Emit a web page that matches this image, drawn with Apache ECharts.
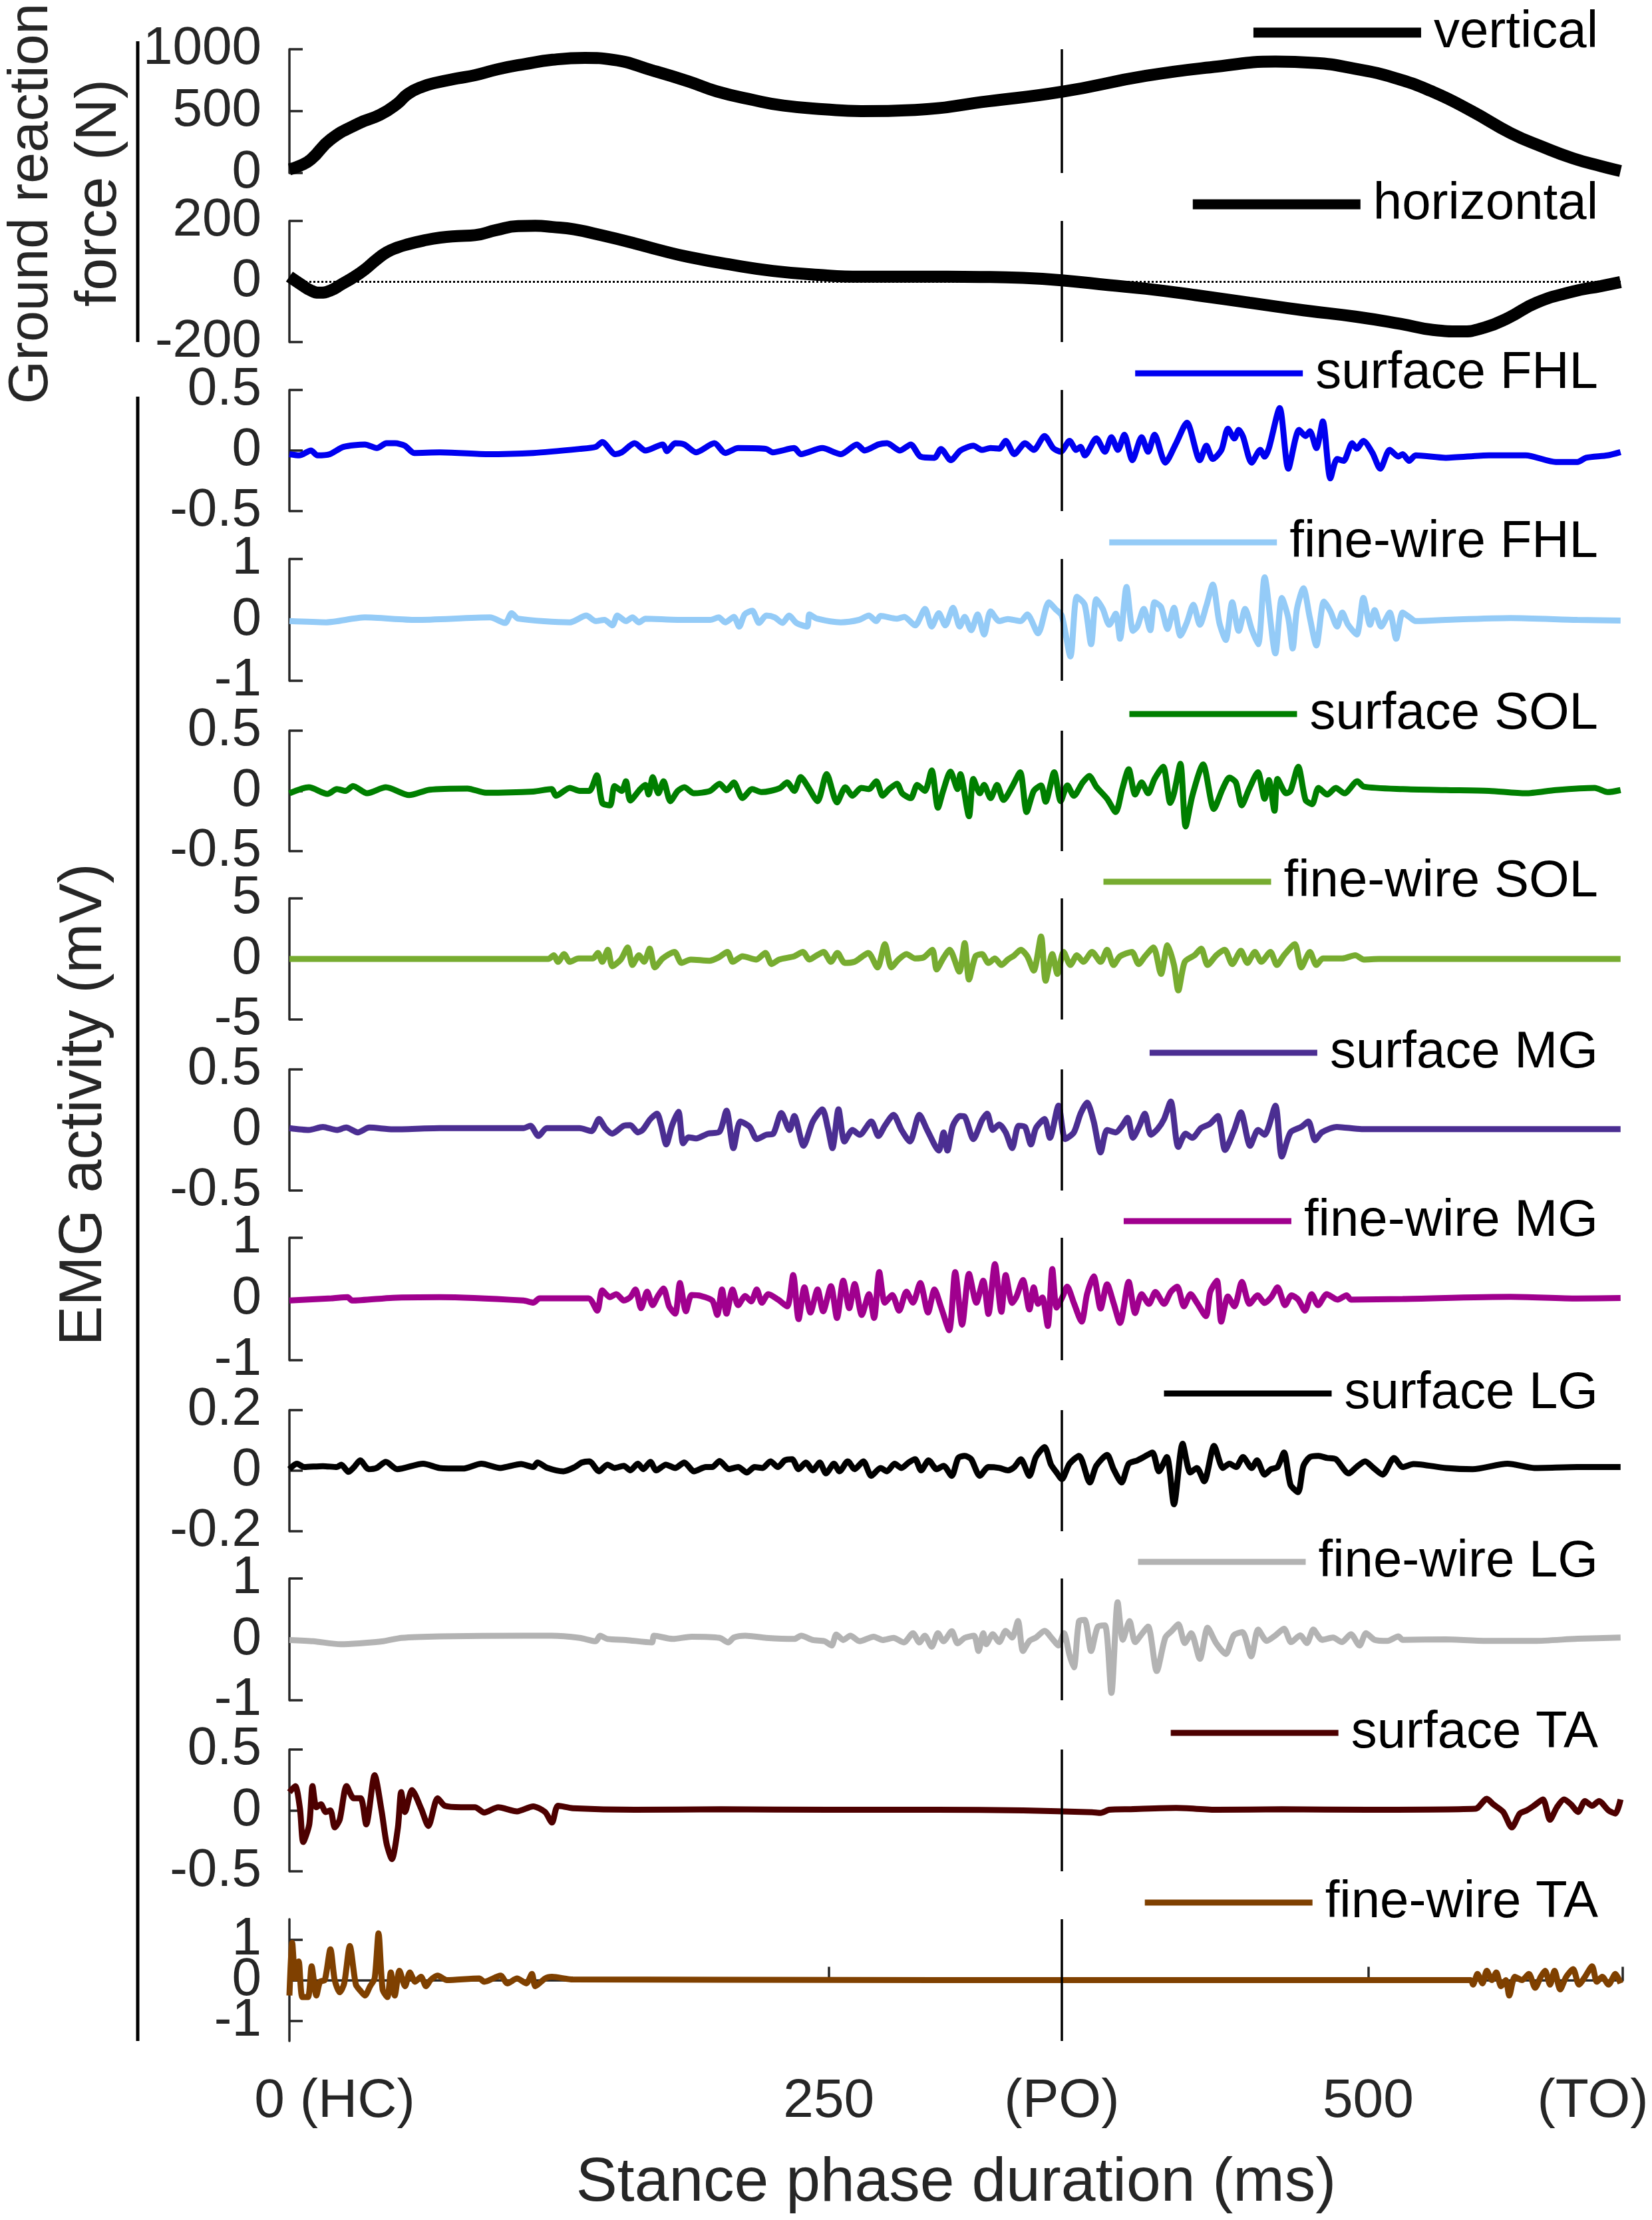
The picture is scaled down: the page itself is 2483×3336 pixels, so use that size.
<!DOCTYPE html>
<html>
<head>
<meta charset="utf-8">
<script src="https://cdn.jsdelivr.net/npm/echarts@6/dist/echarts.min.js"></script>
<style>
html, body { margin: 0; padding: 0; background: #fff; }
#chart { width: 2483px; height: 3336px; }
</style>
</head>
<body>
<div id="chart"></div>
<script>
// x axis: stance phase, ms
var xTickValues = [0, 250, 358, 500, 618];
var xTickLabels = ['0 (HC)', '250', '(PO)', '500', '(TO)'];
var pushOff = 358;

// ground reaction force (N), [ms, value]
var grfVertical = [[0,30],[5,60],[10,110],[19,270],[32,400],[42,470],[50,560],[55,640],[62,700],[68,730],[78,765],[86,790],[97,840],[109,880],[122,915],[137,930],[150,915],[168,830],[185,740],[198,660],[215,590],[229,545],[248,515],[265,500],[290,510],[324,580],[358,656],[397,785],[430,860],[457,900],[475,890],[494,842],[512,770],[530,656],[548,500],[566,323],[581,210],[595,118],[608,55],[617,16]];
var grfHorizontal = [[0,16],[5,-8],[10,-30],[14,-37],[19,-30],[24,-10],[30,15],[35,40],[40,70],[45,96],[50,112],[55,123],[62,135],[70,145],[78,150],[86,153],[96,170],[106,183],[114,184],[122,180],[132,172],[145,152],[160,126],[172,103],[185,81],[205,55],[224,35],[245,22],[265,16],[290,16],[320,15],[340,12],[358,4],[380,-12],[397,-24],[420,-45],[445,-70],[470,-95],[494,-116],[515,-140],[530,-160],[543,-165],[554,-152],[565,-120],[578,-70],[595,-33],[608,-15],[617,-2]];

// EMG activity (mV), [ms, value]
var surfaceFHL = [[0,-0.03],[4.6,-0.04],[10,0],[13,-0.04],[18.7,-0.03],[25,0.03],[35,0.05],[40.5,0.02],[45,0.06],[49,0.06],[53.5,0.04],[57.8,-0.02],[69.7,-0.015],[91,-0.03],[113,-0.02],[134.5,0.013],[142,0.03],[145,0.07],[151,-0.03],[154,-0.015],[160,0.06],[165,0],[173,0.05],[175,-0.005],[178.8,0.06],[183,0.05],[188.5,-0.015],[197,0.06],[202,-0.02],[208,0.02],[221,0.013],[224,-0.015],[234,0.02],[237,-0.03],[247,0.02],[255.6,-0.03],[263,0.05],[266.6,0],[273,0.05],[277,0.06],[283,0],[288,0.05],[292.5,-0.05],[299,-0.06],[302,0.013],[306.6,-0.08],[311,0],[317,0.04],[321,0.005],[325,0.02],[329,0.015],[332,0.08],[336,-0.03],[341,0.06],[345,0.005],[350,0.12],[354,0.02],[357.5,-0.01],[361.6,0.08],[364.7,0.005],[366.7,0.03],[368.7,-0.04],[374,0.1],[378,-0.01],[381,0.11],[384,0.005],[387,0.13],[390.7,-0.08],[395,0.11],[398,-0.01],[401,0.13],[406,-0.1],[411,0.06],[416,0.23],[422,-0.08],[425,0.04],[428,-0.07],[432,0.005],[435,0.18],[438,0.1],[440,0.17],[442,0.115],[446,-0.1],[450,0.005],[452,-0.05],[454,0.02],[459,0.35],[463,-0.15],[468,0.17],[471,0.12],[473,0.16],[476,0.02],[479,0.24],[482.5,-0.23],[485.6,-0.07],[488.6,-0.085],[492.6,0.06],[494.7,0.015],[497.8,0.08],[502,-0.02],[505.6,-0.15],[510,0.005],[514,-0.05],[516,-0.03],[519,-0.085],[522,-0.04],[536,-0.06],[556,-0.04],[573,-0.04],[587,-0.095],[597,-0.095],[601,-0.06],[611,-0.04],[617,-0.013]];
var fineWireFHL = [[0,-0.02],[17,-0.04],[35,0.04],[58.6,0],[93,0.04],[100,-0.05],[103,0.11],[106,0.02],[130,-0.04],[137.6,0.07],[142,-0.02],[146,0],[149.7,-0.09],[152,0.07],[156,-0.02],[159,0.04],[162,-0.04],[165,0.02],[180,0],[195,0],[199,0.04],[202,-0.04],[206,0.05],[208.5,-0.11],[211,0.09],[214.5,0.15],[217.7,-0.05],[221,0.07],[225,0.04],[228.5,-0.05],[231.6,0.07],[235,-0.05],[240,-0.11],[241,0.09],[244.6,0.02],[255.6,-0.04],[264,0],[268.6,0.07],[272,-0.02],[274,0.065],[281.6,0.02],[285,0.05],[290,-0.09],[294.6,0.18],[297.7,-0.11],[301,0.11],[304,-0.09],[307.6,0.2],[310.7,-0.11],[313,0.05],[316,-0.17],[319,0.09],[322,-0.24],[325,0.14],[329,-0.02],[333,0.015],[339,-0.02],[342,0.09],[347,-0.22],[352,0.29],[355,0.18],[358,0.07],[362,-0.6],[365,0.38],[368.6,0.25],[371.6,-0.4],[374,0.34],[377,0.18],[380,-0.08],[383,0.1],[385,-0.31],[388,0.54],[391,-0.18],[393,-0.11],[396,0.18],[399,-0.17],[401,0.29],[404,0.21],[407,-0.15],[410,0.2],[413,-0.26],[416,-0.04],[419,0.25],[422,-0.08],[425,0.23],[428,0.58],[431,-0.04],[434,-0.33],[437,0.29],[440,-0.18],[443,0.18],[446,-0.15],[449,-0.4],[452,0.7],[457,-0.55],[460,0.36],[463,0.03],[465,-0.47],[467,0.18],[470,0.52],[473,0.03],[476,-0.42],[479.5,0.3],[482.5,0.14],[485.6,-0.11],[488,0.12],[490.7,-0.08],[494.7,-0.24],[497.8,0.36],[500.9,-0.08],[503,0.16],[506,-0.11],[510,0.12],[513,-0.31],[516,0.12],[519,0.05],[522,-0.02],[536,0],[566,0.03],[597,0],[617,-0.01]];
var surfaceSOL = [[0,-0.02],[9,0.03],[17.6,-0.025],[22,0.015],[26,0],[29.5,0.04],[36,-0.02],[44.7,0.03],[55.5,-0.035],[65,0.01],[82.5,0.02],[91,-0.015],[113,-0.005],[121.5,0.015],[123.6,-0.04],[130,0.025],[134.5,0],[139,0],[142.5,0.13],[145,-0.1],[148.6,-0.12],[150.7,0.04],[154,0],[156,0.08],[158,-0.08],[162.6,0.015],[165,0.05],[166.5,-0.03],[168.4,0.115],[171,-0.02],[173.4,0.08],[176.6,-0.085],[180,0],[183,0.03],[187.5,-0.02],[195,0],[199.4,0.06],[202.6,0.005],[206,0.07],[210,-0.06],[214.5,0.015],[218.8,-0.01],[223,0],[227.5,0.025],[230.7,0.07],[234,0],[237,0.115],[240.5,0.03],[244.8,-0.085],[249,0.14],[253.8,-0.095],[257.7,0.03],[261,-0.04],[265,0.025],[268.6,0.015],[272,0.08],[275,-0.04],[278,0.015],[281.6,0.06],[284,-0.02],[288,-0.06],[291,0.05],[294.5,0],[297.7,0.17],[300.6,-0.14],[303,0],[306.4,0.16],[309.7,0.015],[311,0.14],[315,-0.21],[317,0.1],[320,-0.02],[322,0.05],[325,-0.06],[328,0.05],[331,-0.075],[335,0.035],[338.7,0.155],[341.7,-0.175],[345,0],[348.4,0.045],[350.5,-0.09],[354.5,0.155],[357.5,-0.085],[360.6,0.045],[363.6,-0.04],[367.7,0.07],[370.7,0.125],[374,0.035],[379,-0.065],[383,-0.175],[386,0.015],[389,0.18],[392,-0.03],[395,0.07],[398,-0.02],[401,0.1],[405,0.2],[408.3,-0.1],[410,-0.02],[413,0.225],[415.4,-0.295],[418.5,-0.04],[423.5,0.22],[428.5,-0.15],[432.5,0.015],[435.7,0.11],[438.7,0.07],[441.4,-0.12],[444.8,0.015],[448.9,0.155],[452,-0.065],[454,0.09],[456.6,-0.165],[458,0.1],[462,-0.02],[464,0],[467.6,0.2],[471,-0.075],[474,-0.11],[477,0.025],[481,-0.03],[485,0.025],[489,-0.02],[495,0.08],[498,0.035],[516,0.015],[536,0.007],[556,0],[573,-0.02],[587,0.007],[605,0.025],[611,-0.01],[617,0.007]];
var fineWireSOL = [[0,0],[120,0],[122.5,0.3],[124.5,-0.24],[127.3,0.4],[130,-0.24],[134,0.04],[140.7,0.04],[143,0.5],[145,-0.24],[147.6,0.76],[149.7,-0.6],[153.6,-0.05],[156.8,0.95],[159,-0.5],[162,0.3],[164.4,-0.24],[167,0.85],[169.4,-0.7],[173,0.04],[178.5,0.58],[181.7,-0.33],[186,-0.05],[194.7,-0.15],[199,0.13],[203,0.58],[205.5,-0.24],[210,0.22],[216.4,-0.05],[220.6,0.5],[223.5,-0.42],[227,-0.05],[234,0.22],[238,0.58],[241,-0.05],[244.5,0.3],[247.6,0.58],[251,-0.24],[254,0.5],[257.4,-0.33],[261.8,-0.24],[265,0.13],[268.3,0.5],[272.6,-0.7],[276,1.22],[279,-0.7],[282.3,-0.05],[286,0.4],[290,0.04],[294,0.13],[298,0.76],[300,-0.87],[303,0.04],[306,0.76],[310.5,-1.05],[313,1.3],[315,-1.7],[318,0.22],[321,0.4],[324,-0.33],[327,0.04],[330,-0.5],[333,-0.05],[336,0.3],[339,0.76],[342,0.22],[345,-0.96],[348.4,1.85],[350.5,-1.8],[353.6,0.4],[356,-1.24],[358.8,0.58],[362,-0.5],[365,0.3],[368,-0.24],[372,0.58],[376,-0.24],[379,0.76],[382,-0.5],[385,0.22],[390.5,0.58],[393.6,-0.42],[396.6,0.22],[400.5,0.95],[404,-1.24],[407,1.13],[410,-0.5],[412,-2.6],[415,-0.24],[419.5,0.3],[422.6,0.85],[425.6,-0.5],[429.6,0.3],[433.5,0.76],[437,-0.42],[441,0.67],[444,-0.33],[447.5,0.58],[450.5,-0.24],[454.7,0.58],[457.7,-0.5],[461,0.3],[466,1.22],[469,-0.7],[473,0.58],[476,-0.5],[479,0.04],[488,0.04],[494,0.3],[498,-0.05],[505,0],[617,0]];
var surfaceMG = [[0,0.015],[9,0],[15.5,0.025],[22,0],[26.3,0.02],[31.7,-0.02],[37,0.02],[48,0.005],[69.6,0.015],[108.5,0.015],[111.7,0.035],[115.4,-0.05],[119.3,0.015],[134.5,0.015],[140,-0.01],[143.5,0.09],[146.4,0.015],[149.6,-0.03],[155,0.035],[158,0.04],[161.5,-0.02],[163.7,0],[167.3,0.09],[170.4,0.135],[172.3,0.04],[174.7,-0.12],[177.3,0.035],[180.3,0.15],[182.5,-0.11],[185,-0.06],[188.5,-0.07],[194,-0.03],[199.4,-0.013],[202.6,0.16],[205.8,-0.15],[209,0.07],[213.4,0.025],[216.6,-0.075],[221,-0.04],[224.3,-0.03],[228,0.14],[231.8,0],[234,0.115],[238.3,-0.13],[242.6,0.07],[247,0.17],[249.6,0.015],[251.7,-0.15],[254.5,0.17],[257.3,-0.095],[261,0],[264.3,-0.04],[269.7,0.07],[273,-0.05],[276,0.035],[280,0.125],[283.7,0],[287.6,-0.095],[292,0.125],[295.6,0],[301,-0.17],[303.2,-0.02],[305,-0.17],[307.5,0.035],[310.8,0.115],[313,0.11],[317,-0.075],[321,0.08],[323.4,0.135],[326,0],[329,0.045],[332,-0.02],[335,-0.15],[338,0.035],[341,0.025],[343.7,-0.12],[346,0.015],[350,0.09],[352.5,-0.065],[356.5,0.2],[359.6,-0.075],[363.6,-0.02],[366.7,0.135],[369.7,0.225],[372.8,0.07],[376,-0.185],[379,0],[383,-0.02],[386,0.035],[388.5,0.1],[391,-0.065],[394,0.035],[396.5,0.135],[399.3,-0.04],[402.4,0.007],[405.4,0.09],[408.5,0.235],[412,-0.14],[415.4,-0.03],[418.5,-0.065],[422.5,0.015],[426.6,0.05],[430.3,0.115],[433.7,-0.165],[437.7,-0.01],[441,0.145],[445.3,-0.13],[449,0],[452,-0.04],[457,0.2],[460,-0.22],[464,-0.02],[469,0.025],[472.3,0.07],[475.4,-0.085],[478.5,-0.02],[485.5,0.025],[497,0.007],[617,0.007]];
var fineWireMG = [[0,-0.025],[19.5,0.01],[27,0.03],[29,-0.025],[48,0.02],[69.6,0.03],[108.5,-0.025],[113,-0.06],[116,0.01],[138.6,0.01],[142.7,-0.19],[145,0.14],[148.5,0.03],[151.5,0.08],[155,-0.025],[158,0.03],[160.4,0.155],[163,-0.15],[165.8,0.12],[168.4,-0.1],[170.8,0.05],[173.4,0.17],[176,-0.12],[178.8,-0.24],[181,0.26],[183.8,-0.2],[186.4,0.065],[190.7,0.05],[196,-0.025],[198.3,-0.26],[200.5,0.155],[202.6,-0.24],[205.4,0.155],[208,-0.1],[211.3,0.05],[214,-0.04],[216.6,0.155],[219,-0.06],[222,0.08],[226.4,-0.007],[230.7,-0.12],[233.5,0.39],[236,-0.33],[238.7,0.19],[241.5,-0.22],[244.8,0.155],[247.4,-0.2],[251,0.21],[253.8,-0.31],[256.7,0.3],[259.5,-0.15],[262,0.245],[265.3,-0.26],[268.6,0.08],[271,-0.31],[273.4,0.44],[276,-0.06],[279.4,0.065],[282.6,-0.19],[286,0.12],[289,-0.06],[292.4,0.26],[296,-0.22],[299,0.155],[302,-0.13],[305.8,-0.51],[308.6,0.44],[311.8,-0.42],[315,0.41],[318.4,-0.06],[321.6,0.3],[324,-0.245],[327,0.57],[330,-0.21],[332,0.39],[335,-0.065],[337,0.04],[340,0.31],[343,-0.17],[345,0.19],[347,-0.08],[349,0.025],[351.5,-0.44],[353.6,0.49],[355.6,-0.14],[358.4,0.04],[360.5,0.2],[363.6,-0.065],[367.2,-0.37],[369.7,0.08],[372.8,0.37],[376,-0.155],[379,0.24],[382,-0.065],[385,-0.39],[389,0.28],[392,-0.23],[395,0.08],[398.4,-0.08],[401.4,0.115],[405.4,-0.08],[408.5,0.115],[411.5,0.2],[414.6,-0.12],[417.7,0.08],[420.7,-0.065],[424.8,-0.28],[426.8,0.115],[429.9,0.3],[431.9,-0.37],[435,0.04],[438,-0.12],[441.5,0.28],[445,-0.08],[448.8,0.06],[452,-0.065],[455,0.025],[458,0.19],[461.5,-0.1],[464.5,0.06],[467.6,-0.01],[470.7,-0.19],[473.8,0.08],[476.8,-0.1],[480.8,0.08],[485.8,-0.01],[490,0.06],[492,-0.01],[516,0],[566,0.035],[597,0.007],[617,0.015]];
var surfaceLG = [[0,0.005],[3.5,0.023],[6.8,0.012],[15.5,0.015],[22,0.012],[24,0.02],[27.4,-0.004],[30,0.012],[32.8,0.034],[36.7,0.005],[40.4,0.009],[44.7,0.029],[50,0.005],[62,0.023],[69.6,0.009],[80.4,0.007],[89,0.023],[97.7,0.009],[107.4,0.022],[113,0.012],[115,0.027],[119.3,0.01],[127,-0.002],[132.3,0.012],[135.5,0.027],[139,0.031],[143.5,-0.002],[147.4,0.02],[150.7,0.009],[155,0.016],[158,0.001],[161.5,0.023],[164,0.005],[167.3,0.029],[170,0.001],[174.5,0.02],[178.8,0.009],[183,0.027],[187.5,-0.002],[193,0.012],[196,0.012],[199.4,0.032],[203.7,0.005],[208,0.012],[212,-0.006],[215.6,0.012],[219.3,0.009],[223,0.031],[226.4,0.012],[229.6,0.034],[233,0.038],[236,0.005],[239.4,0.027],[242.6,0.001],[245.8,0.027],[248.7,-0.009],[252.4,0.023],[255,-0.002],[258.8,0.031],[262,0.005],[266,0.031],[269.7,-0.017],[274,0.009],[277,-0.002],[280.5,0.023],[283.7,0.009],[287,0.027],[290,0.038],[292.8,0.001],[296.3,0.034],[300,0.005],[303.2,0.016],[307,-0.017],[310,0.042],[313,0.049],[316,0.038],[320,-0.017],[324,0.012],[329,0.009],[333,0.001],[336,0.012],[339,0.038],[343,-0.017],[346,0.045],[350,0.078],[353,0.02],[355.6,-0.006],[358,-0.028],[361.6,0.023],[366,0.049],[371,-0.039],[374,0.016],[379,0.052],[382,0.005],[385.7,-0.039],[389,0.023],[393,0.034],[396,0.045],[400,0.06],[403,-0.002],[406.7,0.045],[410,-0.111],[414,0.089],[417.6,-0.006],[420.6,0.009],[424,-0.035],[428.6,0.082],[432.7,0.009],[435.7,0.023],[438.8,0.012],[442,0.045],[446,0.009],[448.5,0.034],[452,-0.013],[455,0.005],[458,0.012],[461,0.06],[464,-0.046],[467.5,-0.071],[470,0.016],[473,0.045],[477,0.049],[481,0.042],[485,0.038],[491,-0.009],[494.6,0.012],[498.6,0.031],[502.5,0.009],[506.7,-0.013],[512,0.042],[516,0.012],[521,0.022],[536,0.009],[548.4,0.005],[564.6,0.023],[577,0.009],[597,0.012],[617,0.012]];
var fineWireLG = [[0,-0.01],[11,-0.03],[23.8,-0.08],[32.5,-0.065],[43.6,-0.03],[52,0.025],[69.6,0.05],[108.5,0.06],[121.5,0.06],[134.5,0.025],[142,-0.03],[144,0.06],[147.4,0.007],[156,-0.01],[168,-0.05],[169,0.06],[177.7,0.007],[186.4,0.045],[199.4,0.025],[203.4,-0.05],[206,0.03],[211.3,0.06],[221,0.025],[234,0.007],[237.2,0.06],[242.6,-0.01],[248,-0.03],[251.3,-0.1],[253.5,0.08],[256.7,-0.01],[260,0.06],[264.3,-0.03],[270.8,0.045],[275,-0.01],[280,0.025],[284.8,-0.05],[289,0.1],[292,-0.05],[294.5,0.06],[297.7,-0.12],[300.6,0.1],[303.2,-0.03],[307,0.135],[309.7,-0.065],[313,0.025],[317.3,0.06],[319.4,-0.19],[321.6,0.1],[323,-0.08],[326,0.085],[329,-0.045],[332,0.14],[335,0.03],[337.7,0.3],[340,-0.19],[343,-0.025],[346,0.03],[350,0.14],[353.6,0.01],[356.4,-0.1],[359,0.1],[361.6,-0.26],[363.6,-0.46],[366,0.3],[368.6,0.32],[371.6,-0.19],[374.7,0.21],[378,0.23],[381,-0.88],[383.9,0.61],[386.3,-0.007],[389.4,0.3],[392,-0.045],[395,0.085],[398,0.21],[402,-0.52],[406,0.03],[409,0.14],[412,0.25],[415,-0.06],[418,0.1],[422,-0.32],[425.6,0.19],[429.5,-0.06],[434,-0.24],[437.7,0.065],[441.7,0.12],[445.8,-0.28],[449,0.16],[453,-0.025],[457,0.065],[461,0.175],[464.3,-0.045],[468.5,0.065],[471.6,-0.06],[474.6,0.16],[478.6,-0.007],[483.7,0.03],[487.8,-0.045],[492,0.085],[496,-0.1],[499,0.1],[503,-0.007],[509,-0.025],[514,0.05],[516,-0.007],[536,0],[556,-0.025],[577,-0.025],[597,0.01],[617,0.03]];
var surfaceTA = [[0,0.15],[2.7,0.2],[4.9,0.013],[6.4,-0.26],[9.2,-0.115],[10.7,0.2],[12.5,0.026],[14.6,0.05],[16.8,-0.013],[19,0],[21,-0.14],[23.3,-0.077],[26.5,0.2],[29.8,0.1],[33,0.1],[35.6,-0.115],[39.5,0.29],[42.8,-0.013],[45,-0.27],[47.5,-0.4],[50.3,-0.14],[51.8,0.15],[53.6,-0.013],[56.8,0.167],[61.1,0.013],[64.4,-0.128],[68.7,0.1],[72,0.038],[79.5,0.026],[86,0.026],[90.3,-0.018],[96.8,0.026],[105.5,-0.008],[113,0.033],[118.5,-0.013],[121.7,-0.1],[124.5,0.038],[131.4,0.018],[160,0.005],[200,0.01],[250,0.005],[300,0.005],[340,0],[372,-0.015],[376,-0.02],[380,0.005],[390,0.01],[411,0.02],[430,0.005],[460,0.01],[500,0.005],[549.7,0.013],[555,0.095],[558,0.05],[562.6,-0.013],[566.6,-0.14],[570.3,-0.026],[573.5,0],[576.8,0.038],[581,0.09],[584.3,-0.077],[587.5,0.026],[590.8,0.09],[594,0.05],[597.3,-0.013],[600.5,0.077],[603.8,0.038],[607,0.077],[611.4,0],[614.6,-0.026],[617,0.09]];
var fineWireTA = [[0,-0.38],[1.3,0.92],[2.7,0.04],[4.3,0.46],[6,-0.42],[8.6,-0.42],[10.3,0.34],[12.5,-0.38],[14.2,-0.04],[16.4,0],[19,0.76],[21,0],[23.3,-0.3],[25.4,-0.08],[28,0.84],[30.8,-0.11],[33,-0.27],[35,-0.38],[37.4,-0.15],[39.5,0.04],[41.3,1.15],[43.2,-0.23],[45.4,-0.42],[47,0.19],[48.8,-0.38],[51,0.23],[53.6,-0.15],[55.8,0.19],[58.3,-0.04],[61,0.08],[63.3,-0.15],[65.4,0],[68.7,0.11],[73,0],[88,0.04],[90.3,-0.04],[97.9,0.11],[101,-0.08],[105.5,0.04],[109.8,-0.08],[112.4,0.15],[114,-0.15],[118.5,0.04],[121.7,0.08],[131.4,0.015],[200,0.01],[300,0],[400,0],[547.5,0],[548.6,-0.11],[550.7,0.15],[553,-0.08],[555,0.23],[557.3,0],[559.4,0.19],[561.6,-0.15],[563.8,0],[565.4,-0.38],[568,0.08],[571.3,0],[574.5,0.15],[577.4,-0.19],[580,0.08],[582,0.23],[584.3,-0.11],[586.4,0.23],[589,-0.23],[591.8,0.08],[595,0.27],[597.7,-0.11],[600.5,0.08],[603.8,0.34],[606,-0.04],[608.5,0.08],[611.4,-0.11],[614.6,0.15],[617,-0.08]];

var FONT = '"Liberation Sans", Arial, Helvetica, sans-serif';
var AXIS_COLOR = '#262626';

// one panel per trace, stacked top to bottom
var panels = [
    {name: 'vertical',      data: grfVertical,   color: '#000000', width: 18, legendWidth: 15, min: 0,    max: 1000, step: 500, top: 74,   height: 186},
    {name: 'horizontal',    data: grfHorizontal, color: '#000000', width: 18, legendWidth: 15, min: -200, max: 200,  step: 200, top: 332,  height: 182, zeroLine: true},
    {name: 'surface FHL',   data: surfaceFHL,    color: '#0000f0', width: 9,  legendWidth: 9,  min: -0.5, max: 0.5,  step: 0.5, top: 586,  height: 182},
    {name: 'fine-wire FHL', data: fineWireFHL,   color: '#94cbf7', width: 9,  legendWidth: 9,  min: -1,   max: 1,    step: 1,   top: 840,  height: 183},
    {name: 'surface SOL',   data: surfaceSOL,    color: '#007f00', width: 9,  legendWidth: 9,  min: -0.5, max: 0.5,  step: 0.5, top: 1098, height: 181},
    {name: 'fine-wire SOL', data: fineWireSOL,   color: '#77ac30', width: 9,  legendWidth: 9,  min: -5,   max: 5,    step: 5,   top: 1350, height: 182},
    {name: 'surface MG',    data: surfaceMG,     color: '#4b2e92', width: 9,  legendWidth: 9,  min: -0.5, max: 0.5,  step: 0.5, top: 1607, height: 182},
    {name: 'fine-wire MG',  data: fineWireMG,    color: '#a0008e', width: 9,  legendWidth: 9,  min: -1,   max: 1,    step: 1,   top: 1860, height: 184},
    {name: 'surface LG',    data: surfaceLG,     color: '#000000', width: 9,  legendWidth: 9,  min: -0.2, max: 0.2,  step: 0.2, top: 2119, height: 182},
    {name: 'fine-wire LG',  data: fineWireLG,    color: '#b3b3b3', width: 9,  legendWidth: 9,  min: -1,   max: 1,    step: 1,   top: 2372, height: 183},
    {name: 'surface TA',    data: surfaceTA,     color: '#4d0000', width: 9,  legendWidth: 9,  min: -0.5, max: 0.5,  step: 0.5, top: 2629, height: 183},
    {name: 'fine-wire TA',  data: fineWireTA,    color: '#7f4000', width: 9,  legendWidth: 9,  min: -1.5, max: 1.5,  step: 0.5, top: 2884, height: 183, intOnly: true, bottomAxis: true}
];

function yLabel(v) {
    return String(Math.round(v * 1000) / 1000);
}

var grids = [], xAxes = [], yAxes = [], series = [], legends = [];

for (var i = 0; i < panels.length; i++) {
    var p = panels[i];
    grids.push({left: 435, width: 2004, top: p.top, height: p.height, outerBoundsMode: 'none'});

    var xa = {
        type: 'value', gridIndex: i, min: 0, max: 618,
        show: !!p.bottomAxis,
        splitLine: {show: false}
    };
    if (p.bottomAxis) {
        xa.axisLine = {show: true, lineStyle: {color: AXIS_COLOR, width: 3.5}};
        xa.axisTick = {show: true, inside: true, length: 20, lineStyle: {color: AXIS_COLOR, width: 3.5}, customValues: [0, 250, 500, 618]};
        xa.axisLabel = {
            show: true, customValues: xTickValues, margin: 50,
            fontSize: 82, fontFamily: FONT, color: AXIS_COLOR,
            formatter: function (v) {
                var k = xTickValues.indexOf(v);
                if (k === 0) return '{hc|' + xTickLabels[k] + '}';
                if (k === xTickValues.length - 1) return '{to|' + xTickLabels[k] + '}';
                return xTickLabels[k];
            },
            rich: {
                hc: {fontSize: 82, fontFamily: FONT, color: AXIS_COLOR, padding: [0, 0, 0, 136]},
                to: {fontSize: 82, fontFamily: FONT, color: AXIS_COLOR, padding: [0, 90, 0, 0]}
            }
        };
        xa.name = 'Stance phase duration (ms)';
        xa.nameLocation = 'middle';
        xa.nameGap = 168;
        xa.nameTextStyle = {fontSize: 93, fontFamily: FONT, color: AXIS_COLOR};
    }
    xAxes.push(xa);

    var ya = {
        type: 'value', gridIndex: i, min: p.min, max: p.max, interval: p.step,
        splitLine: {show: false},
        axisLine: {show: true, lineStyle: {color: AXIS_COLOR, width: 3.5}},
        axisTick: {show: true, inside: true, length: 20, lineStyle: {color: AXIS_COLOR, width: 3.5}},
        axisLabel: {show: true, fontSize: 80, fontFamily: FONT, color: AXIS_COLOR, margin: 42, formatter: yLabel}
    };
    if (p.intOnly) {
        // only whole-number ticks on this axis
        ya.axisTick.customValues = [-1, 0, 1];
        ya.axisLabel.formatter = function (v) {
            return Math.abs(v - Math.round(v)) < 1e-6 && Math.abs(v) < 1.4 ? String(Math.round(v)) : '';
        };
    }
    yAxes.push(ya);

    var marks = [{xAxis: pushOff, lineStyle: {type: 'solid', width: 3.5, color: '#000'}}];
    if (p.zeroLine) {
        marks.push({yAxis: 0, lineStyle: {type: 'dotted', width: 3, color: '#000'}});
    }

    series.push({
        type: 'line', name: p.name, data: p.data,
        xAxisIndex: i, yAxisIndex: i,
        symbol: 'none', showSymbol: false,
        smooth: p.width > 10 ? true : 0.25,
        lineStyle: {color: p.color, width: p.width},
        itemStyle: {color: p.color},
        markLine: {
            silent: true, symbol: ['none', 'none'], animation: false,
            label: {show: false},
            data: marks
        }
    });

    legends.push({
        data: [{name: p.name, icon: 'rect'}], right: 81, top: p.top - 25 - 40, padding: 0,
        itemWidth: 252, itemHeight: p.legendWidth, selectedMode: false,
        itemStyle: {color: p.color},
        textStyle: {fontSize: 78, lineHeight: 80, color: '#000', fontFamily: FONT, padding: [0, 0, 0, 14]}
    });
}

var chart = echarts.init(document.getElementById('chart'));
chart.setOption({
    animation: false,
    backgroundColor: '#ffffff',
    grid: grids,
    xAxis: xAxes,
    yAxis: yAxes,
    legend: legends,
    series: series,
    graphic: [
        // brackets that group the y-axis titles
        {type: 'line', shape: {x1: 207, y1: 62, x2: 207, y2: 514}, style: {stroke: '#000', lineWidth: 5}},
        {type: 'line', shape: {x1: 207, y1: 596, x2: 207, y2: 3067}, style: {stroke: '#000', lineWidth: 5}},
        {type: 'text', x: 48, y: 306, rotation: Math.PI / 2,
         style: {text: 'Ground reaction', fontSize: 84, fontFamily: FONT, fill: AXIS_COLOR, align: 'center', verticalAlign: 'middle'}},
        {type: 'text', x: 150, y: 290, rotation: Math.PI / 2,
         style: {text: 'force (N)', fontSize: 88, fontFamily: FONT, fill: AXIS_COLOR, align: 'center', verticalAlign: 'middle'}},
        {type: 'text', x: 127, y: 1660, rotation: Math.PI / 2,
         style: {text: 'EMG activity (mV)', fontSize: 90, fontFamily: FONT, fill: AXIS_COLOR, align: 'center', verticalAlign: 'middle'}}
    ]
});
</script>
</body>
</html>
